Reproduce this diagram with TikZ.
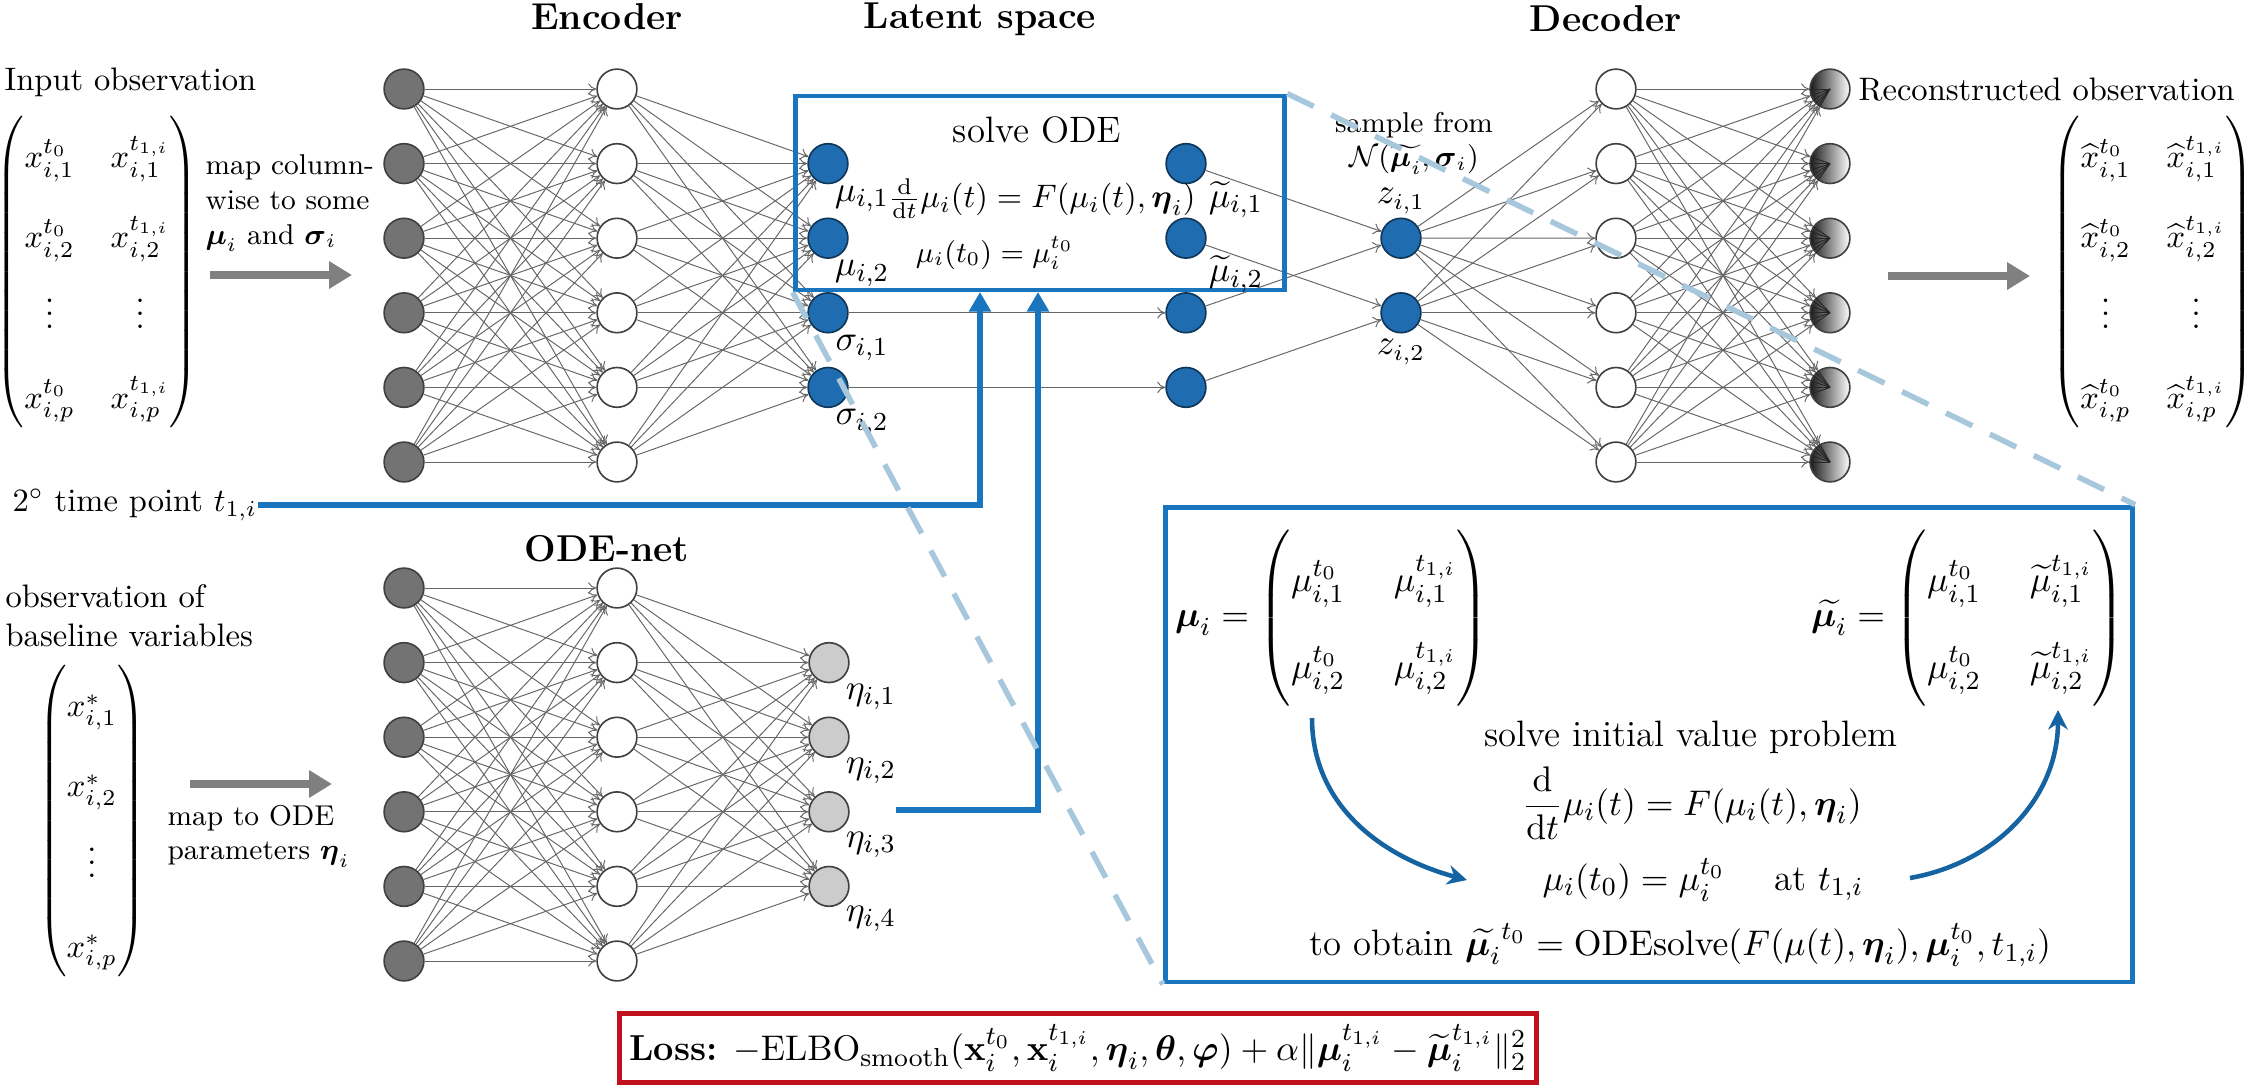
\documentclass[tikz,border=0pt]{standalone}
\usepackage{amsmath,amssymb}
\usepackage{tikz}
\usetikzlibrary{arrows.meta,positioning,calc}
\definecolor{latblue}{HTML}{1F6CB0}
\definecolor{boxblue}{HTML}{1976BE}
\definecolor{zoomblue}{HTML}{A7C7DC}
\definecolor{lossred}{HTML}{C0101E}
\newcommand{\tallmat}[3][2.05]{{\renewcommand{\arraystretch}{#1}\setlength{\arraycolsep}{#2}\begin{pmatrix}#3\end{pmatrix}}}
\tikzset{unit/.style={circle,draw=black!75,minimum size=4.3mm,inner sep=0pt,line width=.5pt},
  inp/.style={unit,fill=black!55},
  hid/.style={unit,fill=white},
  lat/.style={unit,fill=latblue,draw=latblue!50!black},
  par/.style={unit,fill=black!20},
  outp/.style={unit,left color=black!90,right color=white},
  link/.style={draw=black!60,line width=.3pt,-{To[length=2.5pt,width=3.5pt]}},
  feed/.style={draw=black!50,line width=2.2pt,-{Triangle[length=7pt,width=8pt]}},
  wire/.style={draw=boxblue,line width=1.6pt,-{Triangle[length=6pt,width=6.5pt]}},
  swing/.style={draw=boxblue!85!black,line width=1.4pt,-{Stealth[length=6pt,width=6pt]}},
  zoomline/.style={draw=zoomblue,line width=1.7pt,dash pattern=on 9pt off 6pt},
  frame/.style={draw=boxblue,line width=1.5pt,inner sep=0pt},
  hdr/.style={font=\fontsize{11.5}{14}\selectfont\bfseries},
  note/.style={font=\fontsize{8.8}{10.7}\selectfont,align=left,inner sep=0pt},
  lab/.style={font=\fontsize{11}{13}\selectfont,inner sep=0pt},
  big/.style={font=\fontsize{11.3}{13.6}\selectfont,inner sep=0pt}}
\begin{document}
\begin{tikzpicture}[x=0.0108cm,y=-0.0108cm]
\useasboundingbox (0,0) rectangle (2250,1089);
% the three networks
\foreach \k in {1,...,6}{
 \node[inp] (e\k) at (404,{89+74.6*(\k-1)}) {};
 \node[hid] (h\k) at (617,{89+74.6*(\k-1)}) {};
 \node[hid] (d\k) at (1616,{89+74.6*(\k-1)}) {};
 \node[outp] (o\k) at (1830,{89+74.6*(\k-1)}) {};
 \node[inp] (a\k) at (404,{588+74.6*(\k-1)}) {};
 \node[hid] (b\k) at (617,{588+74.6*(\k-1)}) {};
}
\foreach \k in {1,...,4}{
 \node[lat] (m\k) at (828,{89+74.6*\k}) {};
 \node[lat] (s\k) at (1186,{89+74.6*\k}) {};
 \node[par] (p\k) at (829,{588+74.6*\k}) {};
}
\node[lat] (z1) at (1401,238.2) {};
\node[lat] (z2) at (1401,312.8) {};
\foreach \i in {1,...,6}{
 \foreach \j in {1,...,6}{
  \draw[link] (e\i) -- (h\j);
  \draw[link] (a\i) -- (b\j);
  \draw[link] (d\i) -- (o\j) coordinate[pos=1] (q);
  \draw[black!85,line width=.3pt] (q) -- (o\j.center);
 }
 \foreach \j in {1,...,4}{
  \draw[link] (h\i) -- (m\j);
  \draw[link] (b\i) -- (p\j);
 }
 \draw[link] (z1) -- (d\i);
 \draw[link] (z2) -- (d\i);
}
\draw[link] (m3) -- (s3);
\draw[link] (m4) -- (s4);
\draw[link] (s1) -- (z1);
\draw[link] (s3) -- (z1);
\draw[link] (s2) -- (z2);
\draw[link] (s4) -- (z2);

% titles
\node[hdr] (enctitle) at (607,17) {Encoder};
\node[hdr] (lattitle) at (980,19) {Latent space};
\node[hdr] (dectitle) at (1606,19) {Decoder};
\node[hdr] (odetitle) at (607,549) {ODE-net};

% input side
\node[anchor=west,inner sep=0pt] (intxt) at (4,82) {Input observation};
\node[inner sep=0pt] (inmat) at (97,272) {$\tallmat{5.5pt}{x^{t_0}_{i,1} & x^{t_{1,i}}_{i,1}\\ x^{t_0}_{i,2} & x^{t_{1,i}}_{i,2}\\ \vdots & \vdots\\ x^{t_0}_{i,p} & x^{t_{1,i}}_{i,p}}$};
\node[note,anchor=west] (maptxt) at (205,203) {map column-\\wise to some\\$\boldsymbol{\mu}_i$ and $\boldsymbol{\sigma}_i$};
\coordinate (f1a) at (210,275);
\coordinate (f1b) at (352,275);
\draw[feed] (f1a) -- (f1b);

% output side
\node[anchor=west,inner sep=0pt] (rectxt) at (1858,90) {Reconstructed observation};
\node[inner sep=0pt] (outmat) at (2153,272) {$\tallmat{5.5pt}{\widehat{x}^{t_0}_{i,1} & \widehat{x}^{t_{1,i}}_{i,1}\\ \widehat{x}^{t_0}_{i,2} & \widehat{x}^{t_{1,i}}_{i,2}\\ \vdots & \vdots\\ \widehat{x}^{t_0}_{i,p} & \widehat{x}^{t_{1,i}}_{i,p}}$};
\coordinate (f2a) at (1888,276);
\coordinate (f2b) at (2030,276);
\draw[feed] (f2a) -- (f2b);

% latent space
\node[frame,minimum width=5.29cm,minimum height=2.095cm] (odebox) at (1040,193) {};
\node[big] (solvetxt) at (1037,130) {solve ODE};
\node[inner sep=0pt,font=\fontsize{9.6}{11.5}\selectfont] (ode1) at (1042,199) {$\frac{\mathrm{d}}{\mathrm{d}t}\mu_i(t)=F(\mu_i(t),\boldsymbol{\eta}_i)$};
\node[inner sep=0pt,font=\fontsize{9}{11}\selectfont] (init1) at (995,253) {$\mu_i(t_0)=\mu_i^{t_0}$};
\foreach \k/\t in {1/\mu_{i,1},2/\mu_{i,2},3/\sigma_{i,1},4/\sigma_{i,2}}
 \node[lab] (lm\k) at (862,{124+74.6*\k}) {$\t$};
\foreach \k in {1,2}
 \node[lab] (ls\k) at (1236,{125+74.6*\k}) {$\widetilde{\mu}_{i,\k}$};
\node[lab,font=\fontsize{10.5}{12}\selectfont] (lz1) at (1401,201) {$z_{i,1}$};
\node[lab,font=\fontsize{10.5}{12}\selectfont] (lz2) at (1401,352) {$z_{i,2}$};
\node[note,align=center] (sample) at (1414,143) {sample from\\$\mathcal{N}(\widetilde{\boldsymbol{\mu}_i},\boldsymbol{\sigma}_i)$};

% ODE-net side
\node[align=left,anchor=west,inner sep=0pt] (obstxt) at (5,616) {observation of\\baseline variables};
\node[inner sep=0pt] (xmat) at (92,821) {$\tallmat{5pt}{x^{*}_{i,1}\\ x^{*}_{i,2}\\ \vdots\\ x^{*}_{i,p}}$};
\node[note,anchor=west] (maptxt2) at (167,836) {map to ODE\\parameters $\boldsymbol{\eta}_i$};
\coordinate (f3a) at (190,784);
\coordinate (f3b) at (332,784);
\draw[feed] (f3a) -- (f3b);
\foreach \k in {1,...,4}
 \node[lab] (lp\k) at (871,{623+74*\k}) {$\eta_{i,\k}$};

% inputs of the solver
\node[anchor=west,inner sep=0pt] (tp) at (12,505) {$2^\circ$ time point $t_{1,i}$};
\coordinate (in1) at (980,292);
\coordinate (in2) at (1038,292);
\coordinate (etaout) at (896,810);
\draw[wire] (tp.east) -| (in1);
\draw[wire] (etaout) -| (in2);

% zoomed view
\node[frame,minimum width=10.45cm,minimum height=5.13cm] (ivp) at (1649,744.5) {};
\node[big] (mumat) at (1332,618) {$\boldsymbol{\mu}_i=\tallmat[1.96]{7.5pt}{\mu^{t_0}_{i,1} & \mu^{t_{1,i}}_{i,1}\\ \mu^{t_0}_{i,2} & \mu^{t_{1,i}}_{i,2}}$};
\node[big] (mutmat) at (1968,618) {$\widetilde{\boldsymbol{\mu}_i}=\tallmat[1.96]{7.5pt}{\mu^{t_0}_{i,1} & \widetilde{\mu}^{t_{1,i}}_{i,1}\\ \mu^{t_0}_{i,2} & \widetilde{\mu}^{t_{1,i}}_{i,2}}$};
\node[big] (ivptxt) at (1691,737) {solve initial value problem};
\node[big] (ode2) at (1692,803) {$\dfrac{\mathrm{d}}{\mathrm{d}t}\mu_i(t)=F(\mu_i(t),\boldsymbol{\eta}_i)$};
\node[big] (init2) at (1703,880) {$\mu_i(t_0)=\mu_i^{t_0}\quad$ at $t_{1,i}$};
\node[big] (obtain) at (1680,945) {to obtain $\widetilde{\boldsymbol{\mu}_i}^{t_0}=\mathrm{ODEsolve}(F(\mu(t),\boldsymbol{\eta}_i),\boldsymbol{\mu}_i^{t_0},t_{1,i})$};
\coordinate (c1a) at (1312,718);
\coordinate (c1b) at (1467,880);
\coordinate (c2a) at (1910,878);
\coordinate (c2b) at (2058,710);
\draw[swing] (c1a) to[out=-90,in=165] (c1b);
\draw[swing] (c2a) to[out=10,in=-90] (c2b);
\draw[zoomline] (odebox.south west) -- (ivp.south west);
\draw[zoomline] (odebox.north east) -- (ivp.north east);

% loss
\node[draw=lossred,line width=1.4pt,inner xsep=3pt,inner ysep=3.5pt,font=\fontsize{11.1}{13.3}\selectfont] (loss) at (1078,1048) {\textbf{Loss:} $-\mathrm{ELBO}_{\mathrm{smooth}}(\mathbf{x}_i^{t_0},\mathbf{x}_i^{t_{1,i}},\boldsymbol{\eta}_i,\boldsymbol{\theta},\boldsymbol{\varphi})+\alpha\|\boldsymbol{\mu}_i^{t_{1,i}}-\widetilde{\boldsymbol{\mu}}_i^{t_{1,i}}\|_2^2$};
\end{tikzpicture}
\end{document}
